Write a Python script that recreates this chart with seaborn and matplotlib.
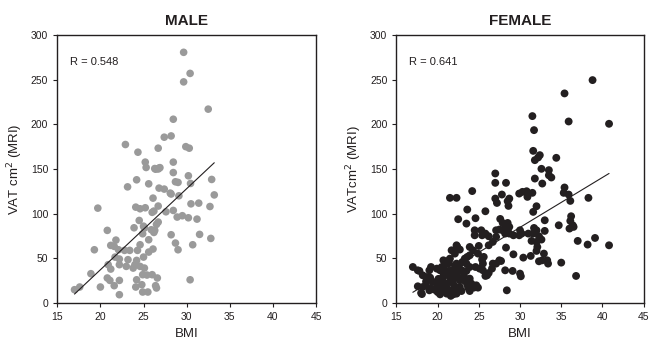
import matplotlib
matplotlib.use("Agg")
import matplotlib.pyplot as plt
import seaborn as sns
import pandas as pd

# Male: BMI vs VAT
male_bmi = [29.65, 30.4, 29.65, 32.5, 28.45, 28.2, 27.4, 22.9, 24.35, 26.7,
            29.9, 30.3, 25.2, 28.45, 25.3, 26.4, 26.8, 26.3, 26.7, 26.9,
            28.45, 30.2, 24.2, 25.6, 28.7, 29.0, 30.45, 32.9, 23.15, 26.8,
            27.4, 28.1, 28.2, 29.1, 33.2, 26.1, 32.7, 30.5, 31.4, 24.1,
            24.6, 25.2, 19.7, 26.7, 26.2, 26.0, 27.6, 28.45, 28.9, 29.5,
            30.2, 31.2, 24.5, 26.7, 20.8, 23.9, 25.1, 25.9, 26.3, 26.2,
            28.2, 31.5, 32.8, 24.9, 25.6, 21.8, 28.7, 30.7, 21.2, 21.6,
            24.6, 19.3, 22.1, 22.8, 23.4, 24.3, 25.6, 26.1, 29.0, 21.7,
            25.0, 22.2, 23.2, 24.2, 20.9, 22.2, 23.0, 23.8, 24.6, 25.1,
            21.2, 24.0, 18.9, 24.9, 25.4, 26.0, 26.6, 20.8, 21.1, 22.2,
            24.2, 30.4, 21.6, 20.0, 24.1, 26.4, 26.5, 17.6, 17.0, 24.9,
            25.5, 22.2, 24.8, 26.5, 25.0]
male_vat = [280.6, 257.0, 247.5, 217.0, 205.7, 187.0, 185.6, 177.4, 168.8, 173.3,
            175.0, 173.3, 157.7, 157.7, 151.7, 149.8, 151.0, 150.5, 150.0, 151.5,
            146.0, 142.4, 137.9, 133.4, 135.7, 135.0, 133.8, 138.3, 130.0, 128.6,
            127.5, 123.0, 122.0, 120.0, 121.0, 117.4, 108.0, 111.0, 111.8, 107.3,
            105.5, 106.6, 106.2, 108.5, 102.9, 101.5, 102.1, 103.6, 96.2, 97.7,
            95.4, 93.9, 92.4, 90.6, 81.3, 84.2, 83.9, 82.0, 81.3, 79.0,
            76.4, 76.8, 72.3, 77.5, 70.8, 70.4, 67.1, 65.2, 64.5, 63.4,
            65.2, 59.6, 59.6, 58.9, 58.9, 58.9, 57.0, 60.4, 59.6, 51.4,
            51.4, 49.2, 48.5, 47.7, 42.9, 42.9, 41.0, 39.1, 41.0, 39.1,
            38.0, 42.9, 32.8, 31.7, 31.3, 31.7, 28.0, 28.0, 25.3, 25.3,
            26.0, 26.0, 19.4, 17.9, 17.9, 19.4, 16.8, 17.9, 14.9, 12.3,
            12.3, 9.3, 20.5, 88.0, 86.0]

# Female: BMI vs VAT
female_bmi = [38.8, 35.4, 31.5, 35.9, 40.8, 31.7, 31.6, 32.4, 32.2, 31.8,
              34.4, 32.6, 33.5, 33.5, 33.8, 31.8, 32.7, 27.0, 27.0, 28.3,
              35.4, 35.3, 35.9, 36.1, 38.3, 24.2, 21.5, 22.3, 27.0, 27.2,
              27.8, 28.7, 28.5, 29.9, 30.3, 30.8, 31.5, 30.9, 32.0, 28.6,
              23.6, 25.8, 31.6, 22.5, 24.6, 33.0, 36.2, 36.1, 36.4, 34.7,
              23.5, 24.5, 25.3, 25.8, 25.4, 24.5, 26.2, 27.6, 27.9, 28.2,
              27.1, 27.5, 27.9, 28.5, 28.7, 28.5, 28.2, 28.7, 29.2, 30.0,
              29.9, 30.2, 27.1, 26.7, 26.2, 31.0, 31.7, 32.0, 31.6, 32.3,
              32.6, 32.0, 31.4, 33.0, 36.0, 36.5, 37.0, 38.2, 39.1, 40.8,
              32.1, 32.0, 28.3, 29.2, 30.4, 31.3, 32.9, 33.3, 32.7, 32.3,
              33.4, 35.0, 30.0, 30.1, 36.8, 28.4, 27.5, 27.7, 28.2, 29.1,
              27.1, 26.7, 26.6, 26.2, 25.8, 26.0, 25.6, 25.4, 25.5, 24.9,
              25.0, 23.9, 24.3, 25.1, 25.5, 24.6, 24.7, 24.9, 22.3, 22.4,
              22.7, 21.7, 22.1, 23.6, 23.9, 23.3, 23.0, 23.5, 23.9, 23.5,
              22.5, 22.9, 21.5, 21.3, 20.7, 20.5, 20.7, 19.9, 20.3, 20.7,
              21.3, 19.2, 19.0, 18.2, 18.7, 19.1, 17.0, 17.6, 17.8, 19.4,
              19.9, 20.3, 20.5, 20.7, 21.5, 22.0, 21.5, 22.3, 22.5, 22.7,
              23.1, 23.3, 23.6, 23.9, 24.1, 24.4, 17.6, 18.2, 18.6, 18.0,
              18.1, 19.0, 19.2, 20.0, 20.3, 20.9, 21.1, 21.7, 22.1, 21.1,
              21.9, 22.3, 22.5, 22.9, 22.7, 23.7, 23.9, 20.3, 20.7, 20.7,
              21.2, 21.7, 22.1, 23.1, 22.1, 22.3, 21.0, 21.8, 20.9, 21.4,
              22.0, 21.2, 23.2, 22.6, 21.6, 20.1, 19.6, 18.6]
female_vat = [249.5, 234.6, 209.2, 203.2, 200.6, 193.5, 170.3, 165.5, 162.9, 159.9,
              162.5, 150.2, 148.7, 143.0, 140.5, 139.3, 133.7, 145.0, 134.5, 134.5,
              129.3, 123.3, 121.4, 114.3, 117.7, 125.3, 117.7, 117.7, 116.9, 112.0,
              121.4, 116.9, 114.0, 122.5, 124.4, 125.1, 123.3, 118.8, 108.3, 108.7,
              104.6, 102.7, 102.0, 93.8, 94.9, 92.6, 97.1, 91.9, 87.0, 87.0,
              88.9, 81.4, 81.4, 77.7, 75.8, 75.8, 74.7, 94.1, 89.6, 86.7,
              81.4, 82.2, 81.4, 89.6, 85.2, 81.4, 77.7, 77.7, 75.8, 81.4,
              75.8, 77.7, 74.0, 68.4, 64.6, 77.7, 84.0, 81.4, 77.7, 74.7,
              71.0, 68.4, 69.5, 80.7, 83.3, 85.2, 69.5, 65.4, 72.8, 64.6,
              62.7, 58.3, 62.0, 54.5, 50.8, 52.7, 55.3, 47.8, 47.8, 46.7,
              44.1, 45.2, 32.9, 29.9, 30.3, 14.2, 47.8, 47.0, 36.6, 35.9,
              44.1, 44.1, 38.5, 33.6, 30.3, 31.0, 51.6, 48.6, 44.1, 55.3,
              63.9, 62.7, 59.0, 38.5, 36.6, 40.3, 19.8, 17.2, 64.6, 62.7,
              59.8, 59.0, 55.3, 51.6, 53.4, 49.7, 45.9, 44.1, 40.3, 35.9,
              40.3, 36.6, 49.7, 44.1, 47.8, 40.3, 40.3, 38.5, 36.6, 33.6,
              35.9, 40.3, 36.6, 31.0, 29.1, 28.4, 40.3, 36.6, 35.9, 23.5,
              21.7, 19.8, 17.9, 18.7, 29.1, 27.3, 23.5, 32.1, 28.4, 25.4,
              29.1, 24.7, 20.9, 27.3, 21.7, 17.2, 18.7, 17.9, 19.8, 11.2,
              10.0, 14.2, 16.0, 12.3, 9.7, 14.2, 17.2, 14.2, 16.0, 10.5,
              9.7, 10.5, 14.2, 13.4, 17.9, 17.2, 13.4, 25.4, 21.7, 29.1,
              32.9, 36.6, 34.7, 35.5, 42.2, 44.1, 22.0, 26.0, 44.0, 48.0,
              20.0, 12.0, 30.0, 42.0, 8.0, 27.0, 15.0, 24.0]

# fitted lines (end points)
male_fit_bmi = [17.0, 33.2]
male_fit_vat = [10.0, 157.0]
female_fit_bmi = [17.0, 40.8]
female_fit_vat = [12.0, 145.0]

male_r = "R = 0.548"
female_r = "R = 0.641"

sns.set_style("ticks")
plt.rcParams["font.family"] = ["Liberation Sans", "DejaVu Sans"]

male = pd.DataFrame({"BMI": male_bmi, "VAT": male_vat})
female = pd.DataFrame({"BMI": female_bmi, "VAT": female_vat})

fig = plt.figure(figsize=(6.53, 3.43), dpi=100)
ax1 = fig.add_axes([0.0877, 0.1166, 0.3963, 0.7814])
ax2 = fig.add_axes([0.607, 0.1166, 0.3787, 0.7814])

panels = [
    (ax1, male, "#9a9a9a", "MALE", r"VAT cm$^2$ (MRI)", male_r,
     male_fit_bmi, male_fit_vat, 30),
    (ax2, female, "#231f20", "FEMALE", r"VATcm$^2$ (MRI)", female_r,
     female_fit_bmi, female_fit_vat, 32),
]

for ax, df, color, title, ylab, rtxt, fx, fy, size in panels:
    sns.scatterplot(data=df, x="BMI", y="VAT", color=color, s=size,
                    edgecolor="none", ax=ax)
    sns.lineplot(x=fx, y=fy, color="#231f20", linewidth=0.8, ax=ax)
    ax.set_xlim(15, 45)
    ax.set_ylim(0, 300)
    ax.set_xticks(range(15, 46, 5))
    ax.set_yticks(range(0, 301, 50))
    ax.tick_params(labelsize=7.5, length=3, width=0.8, colors="#231f20")
    for sp in ax.spines.values():
        sp.set_linewidth(1.0)
        sp.set_color("#231f20")
    ax.set_xlabel("BMI", fontsize=9.5, color="#231f20")
    ax.set_ylabel(ylab, fontsize=9.5, color="#231f20")
    ax.set_title(title, fontsize=11, fontweight="bold", color="#231f20", pad=7)
    ax.text(16.5, 270, rtxt, fontsize=8, color="#231f20", va="center")

fig.savefig("out.png", dpi=100)
